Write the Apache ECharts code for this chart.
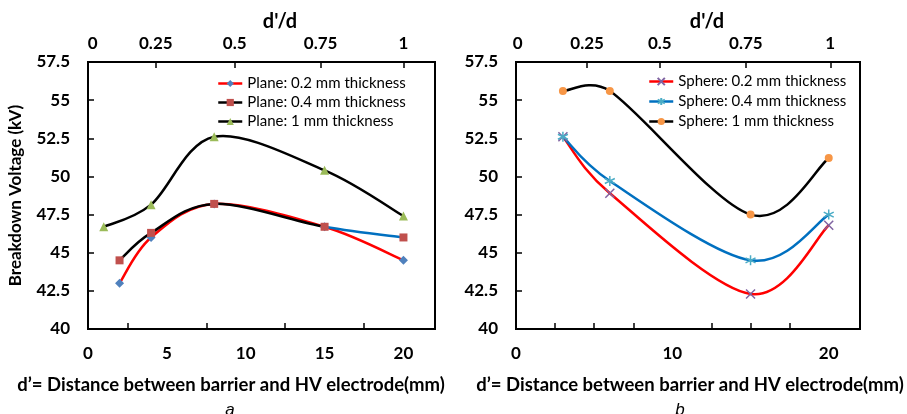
<!DOCTYPE html>
<html>
<head>
<meta charset="utf-8">
<script src="https://cdn.jsdelivr.net/npm/echarts@6/dist/echarts.min.js"></script>
<style>
html,body{margin:0;padding:0;background:#fff;}
#main{width:907px;height:414px;}
</style>
</head>
<body>
<div id="main"></div>
<script>
// ---- data (mm distance d') ----
const planeX02 = [2, 4, 8, 15, 20];
const planeY02 = [43.0, 46.0, 48.2, 46.7, 44.5];
const planeX04 = [2, 4, 8, 15, 20];
const planeY04 = [44.5, 46.3, 48.2, 46.7, 46.0];
const planeX1 = [1, 4, 8, 15, 20];
const planeY1 = [46.7, 48.15, 52.6, 50.4, 47.4];

const sphereX02 = [3, 6, 15, 20];
const sphereY02 = [52.6, 48.9, 42.3, 46.8];
const sphereX04 = [3, 6, 15, 20];
const sphereY04 = [52.6, 49.7, 44.5, 47.5];
const sphereX1 = [3, 6, 15, 20];
const sphereY1 = [55.6, 55.6, 47.5, 51.2];

// ---- names & tick labels ----
const planeNames = ['Plane: 0.2 mm thickness', 'Plane: 0.4 mm thickness', 'Plane: 1 mm thickness'];
const sphereNames = ['Sphere: 0.2 mm thickness', 'Sphere: 0.4 mm thickness', 'Sphere: 1 mm thickness'];
const yTicks = [40, 42.5, 45, 47.5, 50, 52.5, 55, 57.5];
const bottomLabelsA = [0, 5, 10, 15, 20];
const bottomTickMarksA = [2.5, 7.5, 12.5, 17.5];
const bottomLabelsB = [0, 10, 20];
const bottomTickMarksB = [2.5, 5, 7.5, 12.5, 15, 17.5];
const topLabels = ['0', '0.25', '0.5', '0.75', '1'];
const topLabelPosA = [0.3, 4.3, 9.3, 14.75, 20];
const topLabelPosB = [0.1, 4.55, 9.2, 14.7, 20.1];
const bottomTitle = 'd\u2019= Distance between barrier and HV electrode(mm)';
const topTitle = "d'/d";
const yTitle = 'Breakdown Voltage (kV)';

const pairs = (xs, ys) => xs.map((x, i) => [x, ys[i]]);

const FONT = 'Lato, "Open Sans", sans-serif';
const tickLabelStyle = {fontFamily: FONT, fontWeight: 'bold', fontSize: 17, color: '#000'};
const axisLine = {show: true, lineStyle: {color: '#000', width: 2}};

function bottomAxis(gi, labels, marks) {
  return {
    type: 'value', gridIndex: gi, position: 'bottom', min: 0, max: 22,
    axisLine: axisLine,
    axisTick: {show: true, inside: true, length: 6, customValues: marks, lineStyle: {color: '#000', width: 1.5}},
    axisLabel: Object.assign({customValues: labels, margin: 16}, tickLabelStyle),
    splitLine: {show: false}
  };
}
function topAxis(gi, pos) {
  return {
    type: 'value', gridIndex: gi, position: 'top', min: 0, max: 22,
    axisLine: axisLine,
    axisTick: {show: true, inside: true, length: 6, customValues: pos.slice(1), lineStyle: {color: '#000', width: 1.5}},
    axisLabel: Object.assign({
      customValues: pos, margin: 10,
      formatter: v => { const i = pos.indexOf(v); return i >= 0 ? topLabels[i] : ''; }
    }, tickLabelStyle),
    splitLine: {show: false}
  };
}
function yAxisDef(gi, withName) {
  const a = {
    type: 'value', gridIndex: gi, min: 40, max: 57.5, interval: 2.5,
    axisLine: axisLine,
    axisTick: {show: true, inside: true, length: 6, lineStyle: {color: '#000', width: 1.5}},
    axisLabel: Object.assign({margin: 18, customValues: yTicks}, tickLabelStyle),
    splitLine: {show: false}
  };
  if (withName) {
    a.name = yTitle;
    a.nameLocation = 'middle';
    a.nameRotate = 90;
    a.nameGap = 64;
    a.nameTextStyle = {fontFamily: FONT, fontWeight: 'bold', fontSize: 17, color: '#000'};
  }
  return a;
}

// Excel-like smoothed line drawn through the axes' scales (Catmull-Rom -> cubic Bezier,
// control arms limited to half the segment length)
function smoothCurve(xs, ys, xi, yi, color, width, segColors) {
  return {
    type: 'custom', xAxisIndex: xi, yAxisIndex: yi, silent: true, z: 2,
    data: [[xs[0], ys[0]]],
    clip: false,
    renderItem: function (params, api) {
      const p = xs.map((x, i) => api.coord([x, ys[i]]));
      const n = p.length, t = 1 / 6;
      const arm = (a, b, seg) => {
        let dx = (b[0] - a[0]) * t, dy = (b[1] - a[1]) * t;
        const l = Math.hypot(dx, dy), lim = seg * 0.5;
        if (l > lim && l > 0) { dx *= lim / l; dy *= lim / l; }
        return [dx, dy];
      };
      const children = [];
      for (let i = 0; i < n - 1; i++) {
        const p0 = p[Math.max(0, i - 1)], p1 = p[i], p2 = p[i + 1], p3 = p[Math.min(n - 1, i + 2)];
        const seg = Math.hypot(p2[0] - p1[0], p2[1] - p1[1]);
        const a1 = arm(p0, p2, seg), a2 = arm(p1, p3, seg);
        children.push({
          type: 'bezierCurve',
          shape: {
            x1: p1[0], y1: p1[1], x2: p2[0], y2: p2[1],
            cpx1: p1[0] + a1[0], cpy1: p1[1] + a1[1],
            cpx2: p2[0] - a2[0], cpy2: p2[1] - a2[1]
          },
          style: {stroke: (segColors && segColors[i]) || color, lineWidth: width, fill: null, lineCap: 'round'}
        });
      }
      return {type: 'group', children: children};
    }
  };
}

function markers(name, xs, ys, xi, yi, symbol, size, itemStyle) {
  return {
    name: name, type: 'line', xAxisIndex: xi, yAxisIndex: yi, data: pairs(xs, ys),
    symbol: symbol, symbolSize: size, showAllSymbol: true,
    lineStyle: {opacity: 0}, itemStyle: itemStyle, z: 4
  };
}

const xSym = 'path://M0,0L10,10M10,0L0,10';
const starSym = 'path://M5,0L5,10M0.7,2.5L9.3,7.5M0.7,7.5L9.3,2.5';

const RED = '#ff0000', BLUE = '#0070c0', BLACK = '#000000';
const legendText = {fontFamily: FONT, fontSize: 15, color: '#000'};
const titleStyle = {fontFamily: FONT, fontWeight: 'bold', fontSize: 18.5, color: '#000'};
const topTitleStyle = {fontFamily: FONT, fontWeight: 'bold', fontSize: 20, color: '#000'};
const capStyle = {fontFamily: '"Liberation Sans", Arial, sans-serif', fontStyle: 'italic', fontWeight: 'normal', fontSize: 17, color: '#000'};

const option = {
  animation: false,
  backgroundColor: '#fff',
  textStyle: {fontFamily: FONT},
  title: [
    {text: topTitle, left: 275, top: 7, textAlign: 'center', textStyle: topTitleStyle},
    {text: topTitle, left: 702, top: 7, textAlign: 'center', textStyle: topTitleStyle},
    {text: bottomTitle, left: 226, top: 371, textAlign: 'center', textStyle: titleStyle},
    {text: bottomTitle, left: 685, top: 371, textAlign: 'center', textStyle: titleStyle},
    {text: 'a', left: 225, top: 397, textAlign: 'center', textStyle: capStyle},
    {text: 'b', left: 675, top: 397, textAlign: 'center', textStyle: capStyle}
  ],
  legend: [
    {data: [
      {name: planeNames[0], lineStyle: {color: RED, width: 2.5, opacity: 1}},
      {name: planeNames[1], lineStyle: {color: BLACK, width: 2.5, opacity: 1}},
      {name: planeNames[2], lineStyle: {color: BLACK, width: 2.5, opacity: 1}}
     ], orient: 'vertical', left: 212, top: 71, itemGap: 4, itemWidth: 24, itemHeight: 9, textStyle: legendText},
    {data: [
      {name: sphereNames[0], lineStyle: {color: RED, width: 2.5, opacity: 1}},
      {name: sphereNames[1], lineStyle: {color: BLUE, width: 2.5, opacity: 1}},
      {name: sphereNames[2], lineStyle: {color: BLACK, width: 2.5, opacity: 1}}
     ], orient: 'vertical', left: 643, top: 69, itemGap: 5, itemWidth: 24, itemHeight: 9, textStyle: legendText}
  ],
  grid: [
    {left: 88, right: 472, top: 62, bottom: 85, show: true, borderColor: '#000', borderWidth: 2, backgroundColor: 'transparent'},
    {left: 516, right: 47, top: 62, bottom: 85, show: true, borderColor: '#000', borderWidth: 2, backgroundColor: 'transparent'}
  ],
  xAxis: [
    bottomAxis(0, bottomLabelsA, bottomTickMarksA),
    topAxis(0, topLabelPosA),
    bottomAxis(1, bottomLabelsB, bottomTickMarksB),
    topAxis(1, topLabelPosB)
  ],
  yAxis: [yAxisDef(0, true), yAxisDef(1, false)],
  series: [
    smoothCurve(planeX02, planeY02, 0, 0, RED, 2.5),
    smoothCurve(planeX04, planeY04, 0, 0, BLACK, 2.5, [null, null, null, BLUE]),
    smoothCurve(planeX1, planeY1, 0, 0, BLACK, 2.5),
    markers(planeNames[0], planeX02, planeY02, 0, 0, 'diamond', 9, {color: '#4f81bd'}),
    markers(planeNames[1], planeX04, planeY04, 0, 0, 'rect', 8, {color: '#c0504d'}),
    markers(planeNames[2], planeX1, planeY1, 0, 0, 'triangle', 9, {color: '#9bbb59'}),

    smoothCurve(sphereX02, sphereY02, 2, 1, RED, 2.5),
    smoothCurve(sphereX04, sphereY04, 2, 1, BLUE, 2.5),
    smoothCurve(sphereX1, sphereY1, 2, 1, BLACK, 2.5),
    markers(sphereNames[0], sphereX02, sphereY02, 2, 1, xSym, 9, {color: '#8064a2', borderColor: '#8064a2', borderWidth: 1.5}),
    markers(sphereNames[1], sphereX04, sphereY04, 2, 1, starSym, 10, {color: '#4bacc6', borderColor: '#4bacc6', borderWidth: 1.5}),
    markers(sphereNames[2], sphereX1, sphereY1, 2, 1, 'circle', 8, {color: '#f79646'})
  ]
};

const chart = echarts.init(document.getElementById('main'), null, {renderer: 'canvas'});
chart.setOption(option);
</script>
</body>
</html>
